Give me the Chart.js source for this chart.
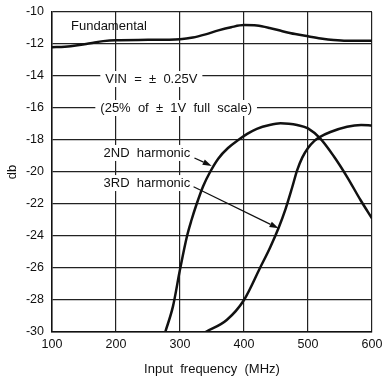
<!DOCTYPE html>
<html>
<head>
<meta charset="utf-8">
<script src="https://cdn.jsdelivr.net/npm/chart.js@4.4.1/dist/chart.umd.min.js"></script>
<style>
  html, body { margin: 0; padding: 0; background: #fff; }
  #wrap { width: 382px; height: 383px; }
</style>
</head>
<body>
<div id="wrap"><canvas id="chart"></canvas></div>
<script>
// axis ticks
const xTicks = [100, 200, 300, 400, 500, 600];
const yTicks = [-10, -12, -14, -16, -18, -20, -22, -24, -26, -28, -30];

// fundamental
const fundFreq = [100, 120, 140, 160, 180, 200, 250, 300, 320, 340, 360, 380, 400, 420, 440, 460, 480, 500, 520, 540, 560, 580, 600];
const fundDb   = [-12.2, -12.17, -12.08, -11.95, -11.82, -11.76, -11.74, -11.7, -11.6, -11.4, -11.15, -10.95, -10.82, -10.85, -11.0, -11.2, -11.38, -11.52, -11.65, -11.75, -11.8, -11.8, -11.8];

// 2nd harmonic
const h2Freq = [277, 289, 300, 311, 318, 326, 336, 347, 360, 375, 391, 405, 420, 440, 457, 470, 483, 500, 519, 540, 561, 582, 600];
const h2Db   = [-30, -28.4, -26.1, -24, -23, -22, -20.9, -20, -19.15, -18.5, -18, -17.62, -17.3, -17.06, -16.96, -16.98, -17.06, -17.27, -17.9, -19.0, -20.3, -21.75, -22.9];

// 3rd harmonic
const h3Freq = [340, 373, 400, 425, 441, 454, 465, 475, 483, 491, 500, 510, 519, 535, 561, 583, 600];
const h3Db   = [-30, -29.25, -28, -26, -24.7, -23.5, -22.3, -21.0, -19.9, -19.1, -18.5, -18.05, -17.8, -17.5, -17.17, -17.06, -17.1];

const toPoints = (xs, ys) => xs.map((x, i) => ({ x: x, y: ys[i] }));

// text notes, in data units (MHz, db)
const notes = [
  { text: 'Fundamental', x: 129.7, y: -10.92, align: 'left', box: false },
  { text: 'VIN  =  \u00B1  0.25V', x: 183.3, y: -14.19, align: 'left', box: true },
  { text: '(25%  of  \u00B1  1V  full  scale)', x: 175.5, y: -16.0, align: 'left', box: true },
  { text: '2ND  harmonic', x: 316, y: -18.81, align: 'right', box: true },
  { text: '3RD  harmonic', x: 316, y: -20.69, align: 'right', box: true }
];
const arrows = [
  { from: [322.6, -19.12], to: [349.5, -19.62] },
  { from: [321.2, -20.92], to: [454, -23.52] }
];

const noteFont = '13px "Liberation Sans", Arial, sans-serif';

const notesPlugin = {
  id: 'notes',
  beforeDatasetsDraw(chart) {
    const { ctx, scales: { x, y } } = chart;
    ctx.save();
    ctx.font = noteFont;
    ctx.textBaseline = 'middle';
    notes.forEach(n => {
      const px = x.getPixelForValue(n.x);
      const py = y.getPixelForValue(n.y);
      const w = ctx.measureText(n.text).width;
      const left = n.align === 'left' ? px : px - w;
      if (n.box) {
        ctx.fillStyle = '#fff';
        ctx.fillRect(left - 5, py - 8, w + 10, 16);
      }
      ctx.fillStyle = '#111';
      ctx.textAlign = n.align;
      ctx.fillText(n.text, px, py);
    });
    ctx.restore();
  },
  afterDatasetsDraw(chart) {
    const { ctx, scales: { x, y } } = chart;
    ctx.save();
    ctx.strokeStyle = '#111';
    ctx.fillStyle = '#111';
    ctx.lineWidth = 1.2;
    arrows.forEach(a => {
      const x0 = x.getPixelForValue(a.from[0]), y0 = y.getPixelForValue(a.from[1]);
      const x1 = x.getPixelForValue(a.to[0]), y1 = y.getPixelForValue(a.to[1]);
      const ang = Math.atan2(y1 - y0, x1 - x0);
      const len = 9, half = 3;
      const bx = x1 - len * Math.cos(ang), by = y1 - len * Math.sin(ang);
      ctx.beginPath();
      ctx.moveTo(x0, y0);
      ctx.lineTo(bx, by);
      ctx.stroke();
      ctx.beginPath();
      ctx.moveTo(x1, y1);
      ctx.lineTo(bx + half * Math.sin(ang), by - half * Math.cos(ang));
      ctx.lineTo(bx - half * Math.sin(ang), by + half * Math.cos(ang));
      ctx.closePath();
      ctx.fill();
    });
    ctx.restore();
  }
};

const curve = (label, pts) => ({
  label: label,
  data: pts,
  borderColor: '#111',
  borderWidth: 2.5,
  pointRadius: 0,
  fill: false,
  cubicInterpolationMode: 'monotone'
});

const ctx = document.getElementById('chart').getContext('2d');
const chart = new Chart(ctx, {
  type: 'line',
  data: {
    datasets: [
      curve('Fundamental', toPoints(fundFreq, fundDb)),
      curve('2ND harmonic', toPoints(h2Freq, h2Db)),
      curve('3RD harmonic', toPoints(h3Freq, h3Db))
    ]
  },
  options: {
    responsive: true,
    maintainAspectRatio: false,
    animation: false,
    layout: { padding: { left: 0, right: 10, top: 12, bottom: 0 } },
    plugins: {
      legend: { display: false },
      tooltip: { enabled: false }
    },
    scales: {
      x: {
        type: 'linear',
        min: 100,
        max: 600,
        afterBuildTicks: s => { s.ticks = xTicks.map(v => ({ value: v })); },
        afterFit: s => { s.height = 51; s.paddingLeft = 0; s.paddingRight = 0; },
        grid: { color: '#222', lineWidth: 1.2, drawTicks: false },
        border: { color: '#111', width: 1.5 },
        ticks: {
          color: '#111',
          padding: 5,
          maxRotation: 0,
          font: { family: '"Liberation Sans", Arial, sans-serif', size: 12.5 }
        },
        title: {
          display: true,
          text: 'Input  frequency  (MHz)',
          color: '#111',
          padding: { top: 0, bottom: 6 },
          font: { family: '"Liberation Sans", Arial, sans-serif', size: 13 }
        }
      },
      y: {
        type: 'linear',
        min: -30,
        max: -10,
        afterBuildTicks: s => { s.ticks = yTicks.map(v => ({ value: v })); },
        afterFit: s => { s.width = 52; s.paddingTop = 0; s.paddingBottom = 0; },
        grid: { color: '#222', lineWidth: 1.2, drawTicks: false },
        border: { color: '#111', width: 1.5 },
        ticks: {
          color: '#111',
          padding: 8,
          font: { family: '"Liberation Sans", Arial, sans-serif', size: 12.5 }
        },
        title: {
          display: true,
          text: 'db',
          color: '#111',
          padding: { top: 5, bottom: 0 },
          font: { family: '"Liberation Sans", Arial, sans-serif', size: 13 }
        }
      }
    }
  },
  plugins: [notesPlugin]
});
</script>
</body>
</html>
